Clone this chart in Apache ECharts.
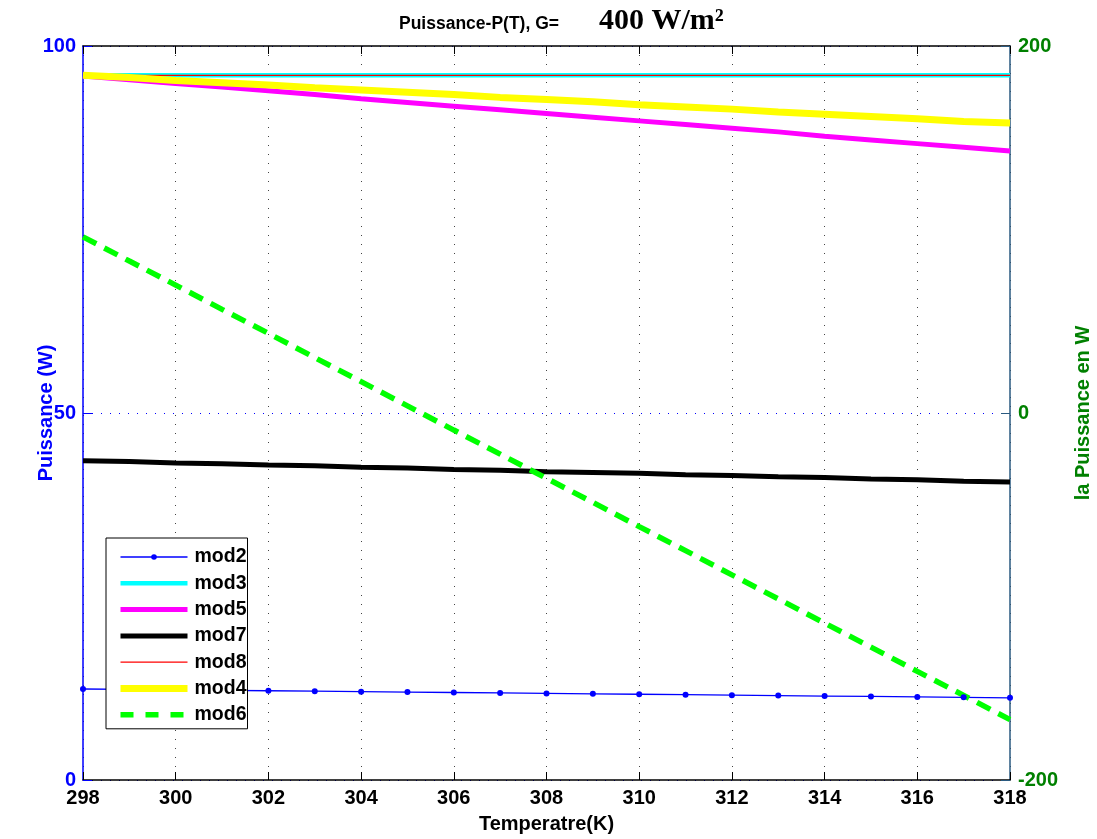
<!DOCTYPE html>
<html><head><meta charset="utf-8">
<script src="https://cdn.jsdelivr.net/npm/echarts@6/dist/echarts.min.js"></script>
<style>html,body{margin:0;padding:0;background:#fff}#c{width:1097px;height:839px}</style>
</head><body><div id="c"></div>
<script>
const temps = [298,299,300,301,302,303,304,305,306,307,308,309,310,311,312,313,314,315,316,317,318];
const mod2 = [12.4,12.34,12.28,12.22,12.16,12.1,12.04,11.98,11.92,11.86,11.8,11.74,11.68,11.62,11.56,11.5,11.44,11.38,11.32,11.26,11.2];
const mod3 = [96.0,96.0,96.0,96.0,96.0,96.0,96.0,96.0,96.0,96.0,96.0,96.0,96.0,96.0,96.0,96.0,96.0,96.0,96.0,96.0,96.0];
const mod5 = [95.9,95.4,94.9,94.4,93.9,93.4,92.8,92.3,91.8,91.3,90.8,90.3,89.8,89.3,88.8,88.3,87.7,87.2,86.7,86.2,85.7];
const mod7 = [43.5,43.4,43.2,43.1,42.9,42.8,42.6,42.5,42.3,42.2,42.0,41.9,41.8,41.6,41.5,41.3,41.2,41.0,40.9,40.7,40.6];
const mod8 = [96.0,96.0,96.0,96.0,96.0,96.0,96.0,96.0,96.0,96.0,96.0,96.0,96.0,96.0,96.0,96.0,96.0,96.0,96.0,96.0,96.0];
const mod4 = [96.0,95.7,95.3,95.0,94.7,94.3,94.0,93.7,93.4,93.0,92.7,92.4,92.0,91.7,91.4,91.0,90.7,90.4,90.1,89.7,89.5];
const mod6 = [96.0,82.8,69.7,56.5,43.4,30.2,17.1,3.9,-9.3,-22.4,-35.6,-48.7,-61.9,-75.0,-88.2,-101.3,-114.5,-127.6,-140.8,-153.9,-167.1];
const xTicks = {min:298, max:318, interval:2};
const leftTicks = {min:0, max:100, interval:50};
const rightTicks = {min:-200, max:200, interval:200};

const pairs = arr => temps.map((t,i)=>[t,arr[i]]);
const font = 'Liberation Sans, Arial, sans-serif';

const styles = {
  mod2:{color:'#0000ff',width:1.3,type:'solid'},
  mod3:{color:'#00ffff',width:4.5,type:'solid'},
  mod5:{color:'#ff00ff',width:5,type:'solid'},
  mod7:{color:'#000000',width:5,type:'solid'},
  mod8:{color:'#ff0000',width:1.3,type:'solid'},
  mod4:{color:'#ffff00',width:7,type:'solid'},
  mod6:{color:'#00ff00',width:5.5,type:[15,9]}
};
const order = ['mod2','mod3','mod5','mod7','mod8','mod4','mod6'];

const chart = echarts.init(document.getElementById('c'), null, {renderer:'canvas'});
chart.setOption({
  animation:false,
  backgroundColor:'#fff',
  title:{
    text:'{a|Puissance-P(T), G=}{s| }{b|400 W/m²}',
    left:394, top:-3,
    textStyle:{rich:{
      a:{fontFamily:font,fontWeight:'bold',fontSize:17.5,color:'#000',lineHeight:34,verticalAlign:'bottom',padding:[0,0,3,0]},
      s:{fontSize:17.5,width:40,lineHeight:34},
      b:{fontFamily:'Liberation Serif, Times New Roman, serif',fontSize:30,color:'#000',lineHeight:34,verticalAlign:'bottom'}
    }}
  },
  grid:{left:83,right:87,top:46,bottom:59,containLabel:false,outerBoundsMode:'none'},
  legend:{
    orient:'vertical', left:106, top:538,
    padding:[9,1,4,11],
    itemWidth:67, itemHeight:7, itemGap:6.3,
    backgroundColor:'#fff', borderColor:'#000', borderWidth:1, borderRadius:0,
    textStyle:{fontFamily:font,fontWeight:'bold',fontSize:19.5,color:'#000',padding:[0,0,0,2]},
    data:order.map(n=>({
      name:n,
      itemStyle:n==='mod2'?{color:'#0000ff'}:{opacity:0},
      lineStyle:{color:styles[n].color,width:styles[n].width,type:n==='mod6'?[13,12]:'solid'}
    }))
  },
  xAxis:[{
    type:'value', position:'bottom', min:xTicks.min, max:xTicks.max, interval:xTicks.interval,
    name:'Temperatre(K)', nameLocation:'middle', nameGap:34, nameMoveOverlap:false,
    nameTextStyle:{fontFamily:font,fontWeight:'bold',fontSize:20,color:'#000'},
    axisLine:{show:true,onZero:false,lineStyle:{color:'#000',width:1.5}},
    axisTick:{show:true,inside:true,length:8,lineStyle:{color:'#000'}},
    axisLabel:{fontFamily:font,fontWeight:'bold',fontSize:20,color:'#000',margin:8},
    splitLine:{show:true,lineStyle:{color:'#444',type:[1,8],width:1}}
  },{
    type:'value', position:'top', min:xTicks.min, max:xTicks.max, interval:xTicks.interval,
    axisLine:{show:true,onZero:false,lineStyle:{color:'#000',width:1.5}},
    axisTick:{show:true,inside:true,length:8,lineStyle:{color:'#000'}},
    axisLabel:{show:false}, splitLine:{show:false}
  }],
  yAxis:[{
    type:'value', position:'left', min:leftTicks.min, max:leftTicks.max, interval:leftTicks.interval,
    name:'Puissance (W)', nameLocation:'middle', nameGap:27, nameRotate:90, nameMoveOverlap:false,
    nameTextStyle:{fontFamily:font,fontWeight:'bold',fontSize:20,color:'#0000ff'},
    axisLine:{show:true,onZero:false,lineStyle:{color:'#0000ff',width:1.5}},
    axisTick:{show:true,inside:true,length:9,lineStyle:{color:'#0000ff'}},
    axisLabel:{fontFamily:font,fontWeight:'bold',fontSize:20,color:'#0000ff',margin:7},
    splitLine:{show:true,lineStyle:{color:'#0000ff',type:[1,8],width:1}}
  },{
    type:'value', position:'right', min:rightTicks.min, max:rightTicks.max, interval:rightTicks.interval,
    name:'la Puissance en W', nameLocation:'middle', nameGap:63, nameRotate:90, nameMoveOverlap:false,
    nameTextStyle:{fontFamily:font,fontWeight:'bold',fontSize:20,color:'#008000'},
    axisLine:{show:true,onZero:false,lineStyle:{color:'#2a5a80',width:1.5}},
    axisTick:{show:true,inside:true,length:9,lineStyle:{color:'#2a5a80'}},
    axisLabel:{fontFamily:font,fontWeight:'bold',fontSize:20,color:'#008000',margin:8},
    splitLine:{show:false}
  }],
  series:[
    {name:'mod2',type:'line',data:pairs(mod2),symbol:'circle',symbolSize:6,showSymbol:true,
     lineStyle:styles.mod2,itemStyle:{color:'#0000ff'}},
    {name:'mod3',type:'line',data:pairs(mod3),symbol:'none',lineStyle:styles.mod3,itemStyle:{color:styles.mod3.color}},
    {name:'mod5',type:'line',data:pairs(mod5),symbol:'none',lineStyle:styles.mod5,itemStyle:{color:styles.mod5.color}},
    {name:'mod7',type:'line',data:pairs(mod7),symbol:'none',lineStyle:styles.mod7,itemStyle:{color:styles.mod7.color}},
    {name:'mod8',type:'line',data:pairs(mod8),symbol:'none',lineStyle:styles.mod8,itemStyle:{color:styles.mod8.color}},
    {name:'mod4',type:'line',data:pairs(mod4),symbol:'none',lineStyle:styles.mod4,itemStyle:{color:styles.mod4.color}},
    {name:'mod6',type:'line',yAxisIndex:1,data:pairs(mod6),symbol:'none',lineStyle:styles.mod6,itemStyle:{color:styles.mod6.color}}
  ]
});
</script></body></html>
